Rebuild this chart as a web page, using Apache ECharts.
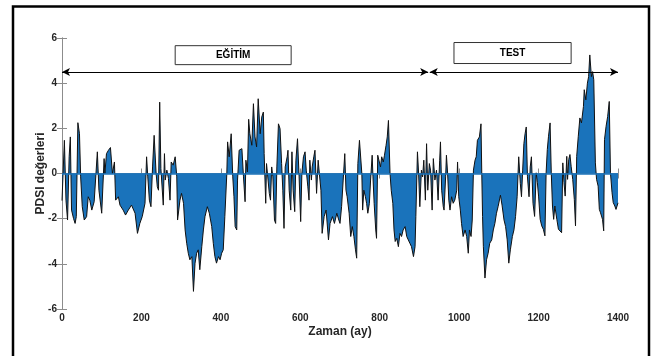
<!DOCTYPE html>
<html>
<head>
<meta charset="utf-8">
<script src="https://cdn.jsdelivr.net/npm/echarts@6/dist/echarts.min.js"></script>
<style>
  html, body { margin: 0; background: #fff; }
  #chart { width: 657px; height: 356px; }
</style>
</head>
<body>
<div id="chart"></div>
<script>
// aylar (x) ve PDSI değerleri (y)
const months = [
  0, 6, 10, 14, 18, 21, 24, 29, 33, 36, 40, 44, 47, 51, 56, 62, 66, 70, 75, 81,
  89, 93, 100, 106, 108, 112, 117, 122, 127, 132, 135, 142, 146, 154, 160, 167, 175, 184, 190, 196,
  202, 209, 213, 216, 220, 224, 228, 232, 237, 240, 243, 246, 249, 252, 255, 258, 260, 264, 268, 272,
  275, 280, 285, 289, 291, 297, 301, 306, 310, 314, 318, 322, 327, 331, 335, 339, 343, 347, 352, 356,
  360, 366, 371, 377, 381, 385, 389, 394, 398, 402, 406, 410, 415, 417, 421, 426, 430, 433, 436, 440,
  442, 446, 450, 453, 457, 461, 463, 467, 470, 473, 478, 482, 486, 490, 494, 499, 503, 507, 509, 513,
  515, 519, 522, 525, 528, 531, 535, 538, 541, 545, 549, 553, 556, 559, 562, 567, 569, 572, 576, 579,
  582, 586, 589, 593, 597, 601, 604, 608, 612, 615, 619, 622, 624, 628, 630, 634, 637, 641, 645, 648,
  652, 655, 660, 665, 671, 675, 681, 686, 692, 697, 700, 704, 708, 712, 715, 718, 723, 727, 731, 735,
  739, 742, 745, 749, 752, 755, 757, 760, 764, 767, 770, 774, 777, 781, 783, 786, 790, 792, 795, 798,
  802, 805, 809, 812, 816, 819, 822, 826, 829, 833, 836, 839, 843, 847, 851, 855, 859, 864, 868, 872,
  876, 880, 885, 889, 891, 895, 898, 901, 905, 908, 911, 915, 918, 921, 925, 928, 932, 935, 939, 943,
  947, 951, 953, 956, 960, 962, 966, 968, 971, 974, 977, 981, 985, 989, 994, 996, 999, 1003, 1006, 1010,
  1015, 1019, 1023, 1026, 1030, 1033, 1036, 1040, 1043, 1046, 1051, 1055, 1057, 1059, 1061, 1065, 1069, 1073, 1077, 1082,
  1086, 1090, 1094, 1098, 1104, 1108, 1113, 1117, 1121, 1125, 1129, 1134, 1138, 1142, 1146, 1150, 1154, 1157, 1160, 1163,
  1166, 1169, 1172, 1176, 1179, 1182, 1186, 1190, 1194, 1197, 1200, 1204, 1208, 1212, 1216, 1219, 1222, 1225, 1229, 1232,
  1235, 1238, 1241, 1246, 1250, 1254, 1258, 1261, 1264, 1267, 1271, 1273, 1276, 1279, 1282, 1286, 1290, 1293, 1296, 1300,
  1304, 1308, 1313, 1315, 1319, 1323, 1326, 1329, 1333, 1336, 1339, 1343, 1346, 1350, 1353, 1356, 1361, 1364, 1366, 1370,
  1374, 1378, 1381, 1385, 1388, 1392, 1395, 1400
]
const pdsi = [
  -1.2, 1.47, -1.18, -2.06, 0.74, 1.62, -1.62, -1.99, -2.21, -1.91, 2.25, 1.76, -0.15, -1.47, -2.06, -1.91, -1.03, -1.18, -1.62, -1.25,
  0.96, -0.74, -1.76, 0.66, 0, 0.88, 1.03, 1.15, 0, 0.51, -1.18, -1.03, -1.4, -1.62, -1.84, -1.62, -1.4, -1.76, -2.65, -2.21,
  -1.91, -1.32, 0.74, -0.15, -1.18, -1.47, 0.29, 1.69, 0, -0.59, -0.74, 3.16, 0.22, 0.15, -1.4, 0.88, -0.29, 0.15, -0.22, -1.18,
  0.51, 0.37, 0.74, -0.15, -2.06, -1.18, -0.88, -1.32, -2.5, -3.09, -3.53, -3.82, -3.68, -5.22, -3.97, -3.53, -3.38, -4.26, -3.24, -2.5,
  -1.91, -1.47, -1.76, -2.35, -3.09, -3.68, -3.97, -3.68, -3.82, -3.53, -3.38, -1.91, 0, 1.4, 0.74, 1.76, -0.15, -1.03, -2.35, -2.5,
  -0.29, 1.03, 0.96, 1.1, -0.15, -1.25, 0.59, 0.07, 2.4, 1.76, 1.25, 3.09, 1.62, 1.18, 3.31, 1.76, 2.5, 2.72, 0.88, -1.32,
  0.44, 0.51, -0.88, -1.18, 0.29, -0.15, -2.06, -2.21, 0.29, 2.2, 1.99, 0.44, -0.74, -2.43, 0.29, 0.74, 1.03, -0.74, -1.62, 0.96,
  -0.74, -1.69, 0.59, 1.54, -0.15, -2.13, 0, 0.74, 0.96, 0.15, -0.59, -1.18, 0.59, -0.29, 0.29, 0.74, 1.03, -0.88, 0.59, 0,
  -0.74, -2.65, -1.91, -1.62, -2.94, -2.21, -1.91, -2.21, -1.76, -2.06, -2.21, -1.47, -0.29, 0.88, -0.74, -1.03, -1.76, -2.79, -2.35, -2.79,
  -3.38, -3.75, 0.44, 1.47, 1.4, 0, -1.62, -0.74, -1.03, -1.32, -1.76, -1.32, -0.29, 0.81, -0.15, -1.32, -2.5, -2.87, 0.81, 0.74,
  0.29, 0.74, 0.51, 0.81, 1.25, 1.62, 2.35, 0, -0.74, -1.32, -2.5, -3.01, -2.87, -3.24, -2.65, -2.79, -2.5, -2.35, -2.79, -2.94,
  -3.09, -3.24, -3.68, -3.24, -1.91, 0.96, 0, -1.47, 0.15, -0.15, 0.59, -1.18, 1.32, -0.74, 0.44, 0.15, -1.62, 0.66, -0.29, 0.15,
  -1.18, 0.59, 1.4, -0.74, -1.47, -1.62, -0.15, 0.81, 0, -1.18, -1.62, -1.03, -1.32, -1.18, -0.74, 0.51, -1.03, -1.62, -2.21, -2.79,
  -2.5, -2.79, -3.53, -2.5, -2.79, -2.06, 0.15, 0.59, 0.74, 1.47, 1.62, 2.2, 0, -1.91, -3.24, -4.63, -3.82, -3.53, -3.09, -2.94,
  -2.5, -2.21, -1.76, -1.47, -0.96, -1.4, -2.06, -2.35, -2.94, -3.97, -3.38, -2.79, -2.5, -1.91, -1.03, 0.74, -0.44, -1.03, 0.15, 1.32,
  1.76, 2.06, -0.15, -1.03, 0.29, 0.74, -1.32, -1.9, 0.03, -0.41, -1.0, -2.03, -2.32, -2.47, -2.76, 0.03, 1.06, 1.65, 2.24, 0.03,
  -1.44, -2.03, -1.44, -2.03, -2.47, -2.47, -2.62, 0.47, -0.41, -1.0, 0.76, -0.26, 0.62, 0.84, 0.32, -0.26, -1.15, -2.32, 0.76, 1.65,
  2.46, 2.24, 2.97, 3.71, 3.26, 4.0, 4.29, 5.25, 4.29, 4.51, 4.15, 0.47, -0.26, -0.56, -1.59, -1.74, -2.03, -2.54, 1.5, 2.09,
  2.53, 3.19, 0.03, -0.85, -1.29, -1.44, -1.59, -1.3
]
const xTicks = [0, 200, 400, 600, 800, 1000, 1200, 1400]
const yTicks = [-6, -4, -2, 0, 2, 4, 6]

// eğitim / test dönemleri
const periodNames = ['EĞİTİM', 'TEST']
const periodStart = [0, 926]
const periodEnd = [922, 1400]
const labelFrom = [285, 987]
const labelTo = [577, 1282]

const fill = '#1a73bb'
const axisColor = '#8c8c8c'
const textColor = '#262626'
const font = 'Liberation Sans, Arial, sans-serif'

let myChart = echarts.init(document.getElementById('chart'))

let arrows = periodNames.map((n, i) => [
  { coord: [periodStart[i], 4.5], symbol: 'arrow' },
  { coord: [periodEnd[i], 4.5], symbol: 'arrow' }
])
let boxes = periodNames.map((n, i) => [
  { coord: [labelFrom[i], i === 0 ? 5.66 : 5.8], name: n },
  { coord: [labelTo[i], i === 0 ? 4.82 : 4.87] }
])

let axisCommon = {
  type: 'value',
  axisLine: { show: true, lineStyle: { color: axisColor, width: 1 } },
  axisTick: { show: true, inside: true, length: 5, lineStyle: { color: axisColor } },
  splitLine: { show: false },
  axisLabel: {
    color: textColor, fontFamily: font, fontWeight: 'bold', fontSize: 10,
    formatter: v => String(v)
  }
}
let nameStyle = { color: textColor, fontFamily: font, fontWeight: 'bold', fontSize: 12 }

myChart.setOption({
  animation: false,
  backgroundColor: '#fff',
  grid: { left: 62, top: 38, width: 556, height: 271 },
  graphic: [{
    type: 'rect',
    shape: { x: 13, y: 6.5, width: 636, height: 370 },
    style: { fill: 'none', stroke: '#000', lineWidth: 2.5 },
    silent: true
  }],
  xAxis: [
    Object.assign({}, axisCommon, {
      min: xTicks[0], max: xTicks[xTicks.length - 1], interval: 200,
      name: 'Zaman (ay)', nameLocation: 'middle', nameGap: 17, nameMoveOverlap: false,
      nameTextStyle: nameStyle,
      axisLabel: Object.assign({}, axisCommon.axisLabel, { margin: 4 })
    }),
    Object.assign({}, axisCommon, {
      min: xTicks[0], max: xTicks[xTicks.length - 1], interval: 200, position: 'top',
      axisLabel: { show: false }
    })
  ],
  yAxis: [
    Object.assign({}, axisCommon, {
      min: yTicks[0], max: yTicks[yTicks.length - 1], interval: 2,
      name: 'PDSI değerleri', nameLocation: 'middle', nameGap: 15, nameMoveOverlap: false,
      nameTextStyle: nameStyle,
      axisLabel: Object.assign({}, axisCommon.axisLabel, { margin: 5 })
    }),
    Object.assign({}, axisCommon, {
      min: yTicks[0], max: yTicks[yTicks.length - 1], interval: 2, position: 'right',
      axisLabel: { show: false }
    })
  ],
  series: [{
    type: 'line',
    data: months.map((m, i) => [m, pdsi[i]]),
    symbol: 'none',
    lineStyle: { color: '#111', width: 1 },
    areaStyle: { color: fill, opacity: 1, origin: 0 },
    markLine: {
      silent: true,
      symbol: 'none',
      symbolSize: [6, 8],
      label: { show: false },
      lineStyle: { color: fill, width: 1.5, type: 'solid' },
      data: [
        [{ coord: [0, 0] }, { coord: [1400, 0] }],
        ...arrows.map(a => [
          Object.assign({}, a[0], { lineStyle: { color: '#000', width: 1, type: 'solid' } }),
          a[1]
        ])
      ]
    },
    markArea: {
      silent: true,
      itemStyle: { color: '#fff', borderColor: '#333', borderWidth: 1 },
      label: {
        show: true, position: 'inside', color: '#000',
        fontFamily: font, fontWeight: 'bold', fontSize: 10
      },
      data: boxes
    }
  }]
})
</script>
</body>
</html>
